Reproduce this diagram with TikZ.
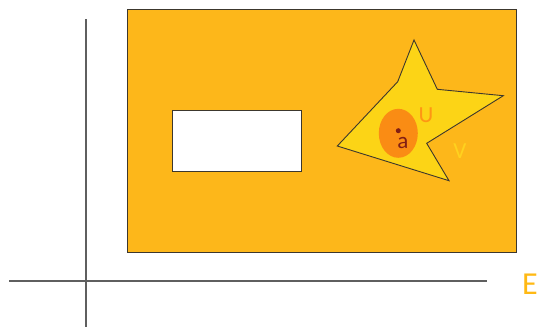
\documentclass[tikz,border=0pt]{standalone}
\usepackage{fontspec}
\setmainfont{Carlito}
\usetikzlibrary{shapes.geometric}
\definecolor{bgorange}{RGB}{253,183,26}
\definecolor{staryellow}{RGB}{252,212,22}
\definecolor{uorange}{RGB}{250,140,20}
\definecolor{dotred}{RGB}{130,30,20}
\definecolor{ucol}{RGB}{255,150,20}
\definecolor{vcol}{RGB}{255,210,30}
\definecolor{ecol}{RGB}{255,185,20}
\definecolor{edge}{RGB}{60,55,45}
\definecolor{axis}{RGB}{95,95,95}
\tikzset{
  axisline/.style={draw=axis,line width=1.1pt},
  label/.style={inner sep=0pt,font=\fontsize{23}{23}\selectfont}
}
\begin{document}
\begin{tikzpicture}[x=1pt,y=-1pt]
\useasboundingbox (0,0) rectangle (538,327);
% axes
\coordinate (vt) at (86,19);
\coordinate (vb) at (86,327);
\coordinate (hl) at (9,281);
\coordinate (hr) at (487,281);
\draw[axisline] (vt) -- (vb);
\draw[axisline] (hl) -- (hr);
% big rectangle
\draw[fill=bgorange,draw=edge,line width=1pt] (127,9.5) rectangle (516,252);
% white rectangle
\draw[fill=white,draw=edge,line width=1pt] (172,110.5) rectangle (301.5,171);
% star
\draw[fill=staryellow,draw=edge,line width=0.9pt]
  (414,40) -- (437.3,89.3) -- (503.3,95.7) -- (426.7,143.3) -- (449,180.7)
  -- (337.3,146) -- (397.7,81.7) -- cycle;
% ellipse
\node[ellipse,fill=uorange,minimum width=39pt,minimum height=49pt,inner sep=0pt] (u) at (398.3,133.3) {};
\node[circle,fill=dotred,minimum size=5pt,inner sep=0pt] (dot) at (398.3,130.7) {};
\node[label,text=dotred] (a) at (403,143) {a};
\node[label,text=ucol] (ul) at (426,115) {U};
\node[label,text=vcol] (vl) at (460,151) {V};
\node[inner sep=0pt,text=ecol,font=\fontsize{32}{32}\selectfont,anchor=west] (el) at (522,284) {E};
\end{tikzpicture}
\end{document}
